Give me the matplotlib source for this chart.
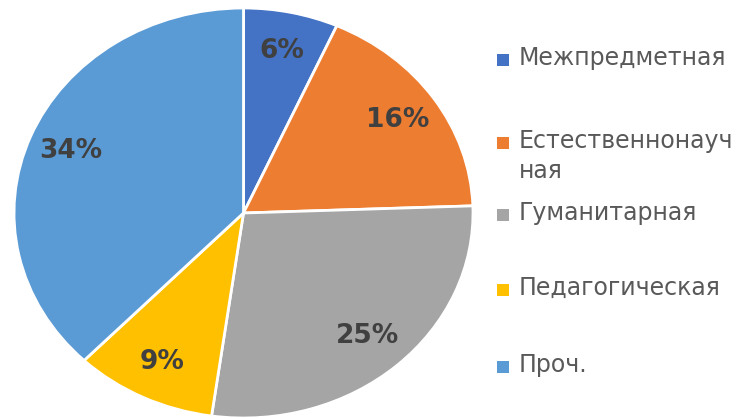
import matplotlib.pyplot as plt
from matplotlib.patches import Rectangle

# данные
categories = ['Межпредметная', 'Естественнонауч\nная', 'Гуманитарная', 'Педагогическая', 'Проч.']
values = [6, 16, 25, 9, 34]
colors = ['#4472C4', '#ED7D31', '#A5A5A5', '#FFC000', '#5B9BD5']

W, H = 749, 418
fig = plt.figure(figsize=(W / 100, H / 100), dpi=100)

# эллипс: оси растянуты по горизонтали
ax = fig.add_axes([14 / W, 1 - 418 / H, 459 / W, 410 / H])
total = sum(values)
wedges, texts, autotexts = ax.pie(
    values, colors=colors, startangle=90, counterclock=False,
    autopct=lambda p: f"{round(p * total / 100):.0f}%", pctdistance=0.81,
    wedgeprops=dict(edgecolor='white', linewidth=2),
    textprops=dict(color='#404040', fontsize=19, fontweight='bold', family='DejaVu Sans'))
ax.set_aspect('auto')
ax.set_xlim(-1.0, 1.0)
ax.set_ylim(-1.0, 1.0)
ax.axis('off')

# легенда вручную (маркер у первой строки)
leg_y = [60, 143, 215, 290, 367]
for name, col, y in zip(categories, colors, leg_y):
    fig.patches.append(Rectangle((497 / W, 1 - (y + 6) / H), 12 / W, 12 / H,
                                 transform=fig.transFigure, facecolor=col, edgecolor='none'))
    fig.text(519 / W, 1 - (y - 14) / H, name, va='top', ha='left', fontsize=17,
             color='#595959', family='DejaVu Sans', linespacing=1.3)

fig.savefig('out.png', dpi=100)
